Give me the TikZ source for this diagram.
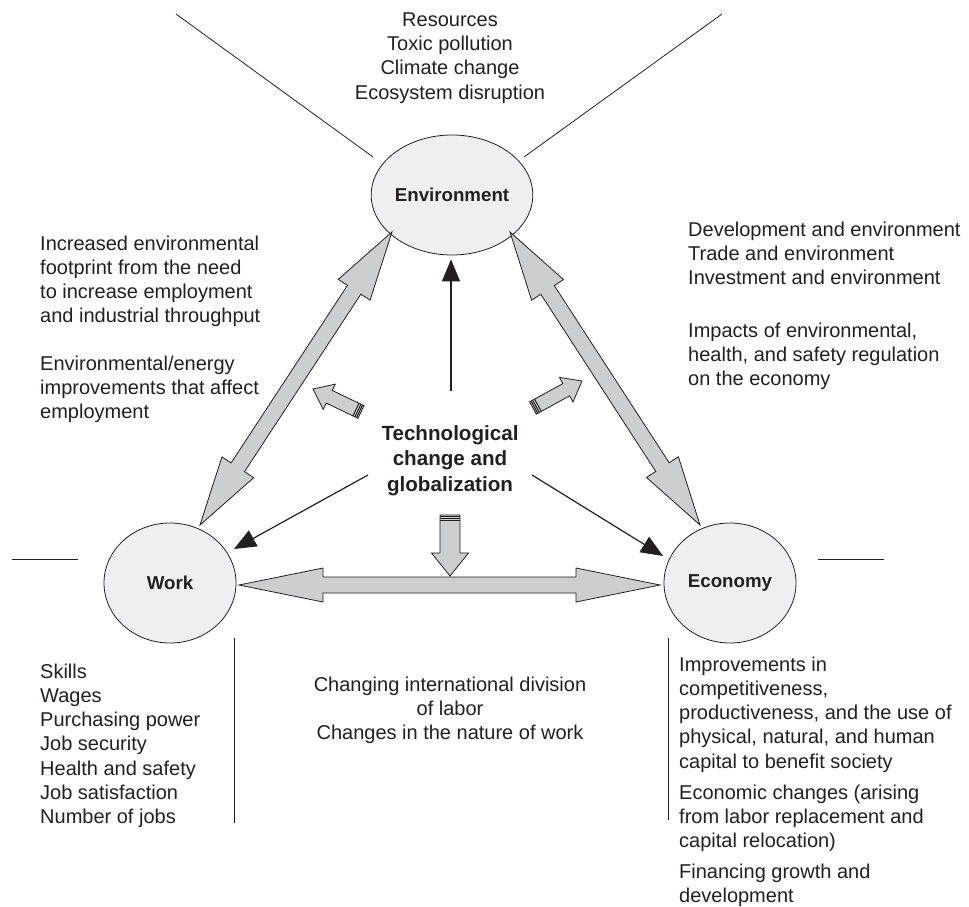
\documentclass[tikz,border=0pt]{standalone}
\usepackage{fontspec}
\setmainfont{Liberation Sans}
\usetikzlibrary{shapes.geometric,calc,arrows.meta}
\definecolor{ink}{HTML}{231F20}
\definecolor{circfill}{HTML}{EFEFF1}
\definecolor{arrfill}{HTML}{CDCED0}
\newcommand{\dblarrow}[5]{%
  \coordinate (da1) at ($(#1)!#5!(#2)$);
  \coordinate (da2) at ($(#2)!#5!(#1)$);
  \draw[blockarrow] (#1) -- ($(da1)!#4!90:(#2)$) -- ($(da1)!#3!90:(#2)$)
    -- ($(da2)!#3!-90:(#1)$) -- ($(da2)!#4!-90:(#1)$) -- (#2)
    -- ($(da2)!#4!90:(#1)$) -- ($(da2)!#3!90:(#1)$)
    -- ($(da1)!#3!-90:(#2)$) -- ($(da1)!#4!-90:(#2)$) -- cycle;}
\newcommand{\stripearrow}[5]{%
  \coordinate (sa1) at ($(#2)!#5!(#1)$);
  \draw[blockarrow] ($(#1)!#3!90:(#2)$) -- ($(sa1)!#3!-90:(#1)$) -- ($(sa1)!#4!-90:(#1)$)
    -- (#2) -- ($(sa1)!#4!90:(#1)$) -- ($(sa1)!#3!90:(#1)$) -- ($(#1)!#3!-90:(#2)$) -- cycle;
  \foreach \dd in {1.6,3.4,5.6}{%
    \coordinate (sb) at ($(#1)!\dd pt!(#2)$);
    \draw[draw=ink, line width=1pt] ($(sb)!#3!90:(#2)$) -- ($(sb)!#3!-90:(#2)$);}}
\begin{document}
\begin{tikzpicture}[x=1pt,y=-1pt,
  every node/.style={text=ink},
  sphere/.style={ellipse, draw=ink, line width=0.8pt, fill=circfill, minimum width=132pt, minimum height=120pt, inner sep=0pt, font=\bfseries\fontsize{18.7}{22}\selectfont},
  blockarrow/.style={draw=ink, line width=0.8pt, fill=arrfill, line join=miter},
  thinline/.style={draw=ink, line width=0.8pt},
  blackarrow/.style={draw=ink, line width=1.2pt, -{Triangle[length=22pt,width=18pt]}},
  txt/.style={inner sep=0pt, align=left, anchor=north west, font=\fontsize{20}{24.2}\selectfont},
  ctxt/.style={inner sep=0pt, align=center, anchor=north, font=\fontsize{20}{24.2}\selectfont},
]
\useasboundingbox (0,0) rectangle (969,907);

% decorative lines
\draw[thinline] (176,14) -- (373,157);
\draw[thinline] (722,14) -- (524,157);
\draw[thinline] (12,559) -- (78,559);
\draw[thinline] (818,559) -- (884,559);
\draw[thinline] (234,638) -- (234,823);
\draw[thinline] (668,638) -- (668,820);

% circles
\node[sphere] (env) at (452,195) {Environment};
\node[sphere] (work) at (170,583) {Work};
\node[sphere] (econ) at (730,583) {Economy};

% central text
\node[inner sep=0pt, align=center, anchor=north, font=\bfseries\fontsize{20.6}{25.5}\selectfont] (tech) at (450,425) {Technological\\change and\\globalization};

% block double arrows
\coordinate (eL) at ([shift={(-60,37)}]env.center);
\coordinate (wT) at ([shift={(30,-58)}]work.center);
\coordinate (eR) at ([shift={(58,37)}]env.center);
\coordinate (cT) at ([shift={(-30,-58)}]econ.center);
\coordinate (wR) at ([shift={(69,2)}]work.center);
\coordinate (cL) at ([shift={(-70,2)}]econ.center);
\dblarrow{eL}{wT}{8pt}{19pt}{69pt}
\dblarrow{eR}{cT}{8pt}{19pt}{69pt}
\dblarrow{wR}{cL}{8pt}{17pt}{84pt}

% small striped arrows
\coordinate (sLt) at (361,412);
\coordinate (sLh) at (313,389);
\coordinate (sRt) at (533,408);
\coordinate (sRh) at (582,381);
\coordinate (sDt) at (450,515);
\coordinate (sDh) at (450,576);
\stripearrow{sLt}{sLh}{7pt}{14pt}{18pt}
\stripearrow{sRt}{sRh}{7pt}{14pt}{18pt}
\stripearrow{sDt}{sDh}{10pt}{18.5pt}{23pt}

% black arrows
\coordinate (tU) at (451,391);
\coordinate (tL) at (368,475);
\coordinate (tR) at (532,475);
\draw[blackarrow] (tU) -- ([shift={(-1,4)}]env.south);
\draw[blackarrow] (tL) -- ([shift={(64,-34)}]work.center);
\draw[blackarrow] (tR) -- ([shift={(-67,-27)}]econ.center);

% texts
\node[ctxt] (ttop) at (450,12.5) {Resources\\Toxic pollution\\Climate change\\Ecosystem disruption};
\node[txt] (tl1) at (40,235.5) {Increased environmental\\footprint from the need\\to increase employment\\and industrial throughput};
\node[txt] (tl2) at (40,355.5) {Environmental/energy\\improvements that affect\\employment};
\node[txt] (tr1) at (688,221.5) {Development and environment\\Trade and environment\\Investment and environment};
\node[txt] (tr2) at (688,322.5) {Impacts of environmental,\\health, and safety regulation\\on the economy};
\node[txt] (tbl) at (40,663.5) {Skills\\Wages\\Purchasing power\\Job security\\Health and safety\\Job satisfaction\\Number of jobs};
\node[ctxt] (tbm) at (450,676.5) {Changing international division\\of labor\\Changes in the nature of work};
\node[txt] (tbr1) at (679,656.5) {Improvements in\\competitiveness,\\productiveness, and the use of\\physical, natural, and human\\capital to benefit society};
\node[txt] (tbr2) at (679,784.5) {Economic changes (arising\\from labor replacement and\\capital relocation)};
\node[txt] (tbr3) at (679,863.5) {Financing growth and\\development};
\end{tikzpicture}
\end{document}
